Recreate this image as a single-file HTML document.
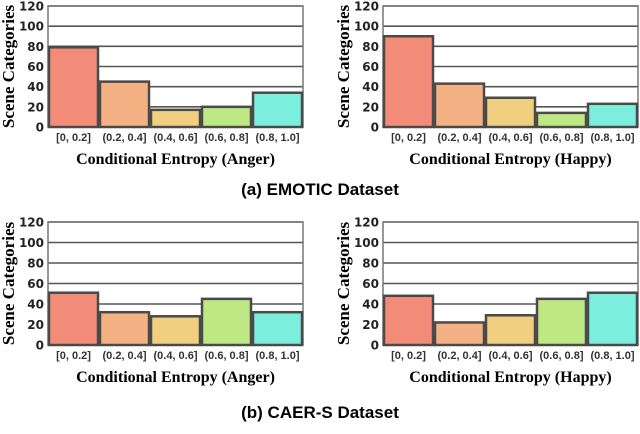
<!DOCTYPE html>
<html><head><meta charset="utf-8"><style>
body{margin:0;background:#fff;width:640px;height:429px;overflow:hidden}
svg text{font-family:"DejaVu Sans","Liberation Sans",sans-serif}
</style></head><body>
<svg id="fig" width="640" height="429" xmlns="http://www.w3.org/2000/svg">
<text x="320" y="195" text-anchor="middle" font-size="17" font-weight="bold" style="font-family:'Liberation Sans',sans-serif">(a) EMOTIC Dataset</text>
<text x="320" y="418" text-anchor="middle" font-size="17" font-weight="bold" style="font-family:'Liberation Sans',sans-serif">(b) CAER-S Dataset</text>
</svg>
<script>
const categories = ["[0, 0.2]","(0.2, 0.4]","(0.4, 0.6]","(0.6, 0.8]","(0.8, 1.0]"];
const ticks = [0,20,40,60,80,100,120];
const emoticAnger = [79,45,17,20,34];
const emoticHappy = [90,43,29,14,23];
const caerAnger = [51,32,28,45,32];
const caerHappy = [48,22,29,45,51];
const colors = ["#f28c78","#f4b183","#f0d080","#bde884","#7beedd"];
const panels = [
 {name:"emotic-anger", vals:emoticAnger, x0:48, x1:303, yTop:6, yBot:127, emo:"Anger"},
 {name:"emotic-happy", vals:emoticHappy, x0:383, x1:638, yTop:6, yBot:127, emo:"Happy"},
 {name:"caer-anger", vals:caerAnger, x0:48, x1:303, yTop:222, yBot:345, emo:"Anger"},
 {name:"caer-happy", vals:caerHappy, x0:383, x1:638, yTop:222, yBot:345, emo:"Happy"}
];
const svg = document.getElementById('fig');
const NS = "http://www.w3.org/2000/svg";
function mk(tag, attrs){const e=document.createElementNS(NS,tag);for(const k in attrs)e.setAttribute(k,attrs[k]);return e;}
panels.forEach(p=>{
  const g = mk('g',{});
  
  
  svg.appendChild(g);
  const yS = v => p.yBot - (v/120)*(p.yBot-p.yTop);
  const bw = (p.x1-p.x0)/categories.length;
  const xS = i => p.x0 + i*bw;
  ticks.forEach(t=>{
    const l = mk('line',{x1:p.x0,x2:p.x1,y1:yS(t),y2:yS(t),stroke:'#555','stroke-width':1.6});
    
    
    g.appendChild(l);
    const tx = mk('text',{x:p.x0-4,y:yS(t)+4.5,'text-anchor':'end','font-size':12,'font-weight':'bold',fill:'#222'});
    tx.textContent = t;
    
    
    g.appendChild(tx);
  });
  const fr = mk('rect',{x:p.x0,y:p.yTop,width:p.x1-p.x0,height:p.yBot-p.yTop,fill:'none',stroke:'#777','stroke-width':1.5});
  
  
  g.appendChild(fr);
  p.vals.forEach((v,i)=>{
    const r = mk('rect',{x:xS(i)+1,y:yS(v),width:bw-2,height:p.yBot-yS(v),fill:colors[i],stroke:'#4a4a4a','stroke-width':2.5});
    
    
    g.appendChild(r);
    const tl = mk('text',{x:xS(i)+bw/2,y:p.yBot+14,'text-anchor':'middle','font-size':11,'font-weight':'bold',fill:'#333',style:"font-family:'Liberation Sans',sans-serif"});
    tl.textContent = categories[i];
    
    
    g.appendChild(tl);
  });
  const yt = mk('text',{x:0,y:0,'text-anchor':'middle','font-size':17,'font-weight':'bold',transform:`translate(${p.x0-34},${(p.yTop+p.yBot)/2}) rotate(-90)`,style:"font-family:'Liberation Serif',serif"});
  yt.textContent = 'Scene Categories';
  
  
  g.appendChild(yt);
  const xt = mk('text',{x:(p.x0+p.x1)/2,y:p.yBot+37,'text-anchor':'middle','font-size':16,'font-weight':'bold',style:"font-family:'Liberation Serif',serif"});
  xt.textContent = 'Conditional Entropy ('+p.emo+')';
  
  
  g.appendChild(xt);
});
</script>
</body></html>
